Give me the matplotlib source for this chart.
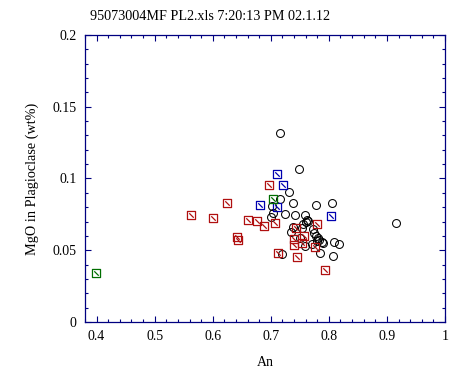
import matplotlib
matplotlib.use("Agg")
import matplotlib.pyplot as plt
from matplotlib.path import Path
from matplotlib.ticker import MultipleLocator

plt.rcParams['font.family'] = ['Liberation Serif', 'DejaVu Serif']

# black circles
an_circ = [0.716, 0.748, 0.731, 0.716, 0.738, 0.778, 0.805, 0.702, 0.703, 0.700,
           0.724, 0.741, 0.759, 0.762, 0.755, 0.764, 0.738, 0.734, 0.753, 0.772,
           0.774, 0.778, 0.781, 0.783, 0.788, 0.779, 0.790, 0.750, 0.759, 0.719,
           0.784, 0.807, 0.809, 0.817, 0.916, 0.760, 0.771]
mgo_circ = [0.1317, 0.1066, 0.0906, 0.0857, 0.0829, 0.0815, 0.0829, 0.0808, 0.0760, 0.0732,
            0.0753, 0.0746, 0.0746, 0.0711, 0.0683, 0.0704, 0.0662, 0.0627, 0.0655, 0.0648,
            0.0620, 0.0599, 0.0585, 0.0571, 0.0557, 0.0564, 0.0551, 0.0585, 0.0530, 0.0474,
            0.0481, 0.0460, 0.0557, 0.0544, 0.0690, 0.0697, 0.0544]

# red squares
an_red = [0.563, 0.6005, 0.625, 0.641, 0.643, 0.661, 0.676, 0.688, 0.697, 0.707,
          0.744, 0.780, 0.740, 0.740, 0.754, 0.758, 0.776, 0.712, 0.7457, 0.794]
mgo_red = [0.0744, 0.0723, 0.0827, 0.0592, 0.0569, 0.0709, 0.0704, 0.0666, 0.0953, 0.0688,
           0.0655, 0.0683, 0.0578, 0.0540, 0.0551, 0.0599, 0.0526, 0.0479, 0.0453, 0.0362]

# blue squares
an_blue = [0.710, 0.721, 0.6816, 0.710, 0.8034]
mgo_blue = [0.1031, 0.0953, 0.0815, 0.0799, 0.0742]

# green squares
an_green = [0.3995, 0.703]
mgo_green = [0.0344, 0.0859]

# square with a diagonal stroke
sq = Path([(-1, -1), (1, -1), (1, 1), (-1, 1), (-1, -1), (-0.55, 0.55), (0.55, -0.55)],
          [Path.MOVETO, Path.LINETO, Path.LINETO, Path.LINETO, Path.CLOSEPOLY,
           Path.MOVETO, Path.LINETO])

navy = '#000080'
fig = plt.figure(figsize=(4.59, 3.75), dpi=100)
ax = fig.add_axes([0.1852, 0.1413, 0.7843, 0.7654])

ax.plot(an_circ, mgo_circ, 'o', ms=5.7, mfc='none', mec='black', mew=0.75, ls='none')
ax.plot(an_red, mgo_red, marker=sq, ms=5.8, mfc='none', mec='#B01010', mew=0.9, ls='none')
ax.plot(an_blue, mgo_blue, marker=sq, ms=5.8, mfc='none', mec='#0000B0', mew=0.9, ls='none')
ax.plot(an_green, mgo_green, marker=sq, ms=5.8, mfc='none', mec='#006E00', mew=0.9, ls='none')

ax.set_xlim(0.38, 1.0)
ax.set_ylim(0, 0.2)
ax.xaxis.set_major_locator(MultipleLocator(0.1))
ax.xaxis.set_minor_locator(MultipleLocator(0.02))
ax.yaxis.set_major_locator(MultipleLocator(0.05))
ax.yaxis.set_minor_locator(MultipleLocator(0.01))
ax.set_xticks([0.4, 0.5, 0.6, 0.7, 0.8, 0.9, 1.0])
ax.set_xticklabels(['0.4', '0.5', '0.6', '0.7', '0.8', '0.9', '1'])
ax.set_yticks([0, 0.05, 0.1, 0.15, 0.2])
ax.set_yticklabels(['0', '0.05', '0.1', '0.15', '0.2'])

ax.tick_params(which='both', direction='in', top=True, right=True, color=navy,
               width=0.8, labelsize=10, pad=6)
ax.tick_params(which='major', length=4.5)
ax.tick_params(which='minor', length=2.3)
for s in ax.spines.values():
    s.set_color(navy)
    s.set_linewidth(0.9)

ax.set_xlabel('An', fontsize=10, labelpad=9)
ax.set_ylabel('MgO in Plagioclase (wt%)', fontsize=10.3, labelpad=10)
fig.text(0.196, 0.957, '95073004MF PL2.xls 7:20:13 PM 02.1.12', fontsize=10.2,
         ha='left', va='center')

fig.savefig('out.png', dpi=100)
